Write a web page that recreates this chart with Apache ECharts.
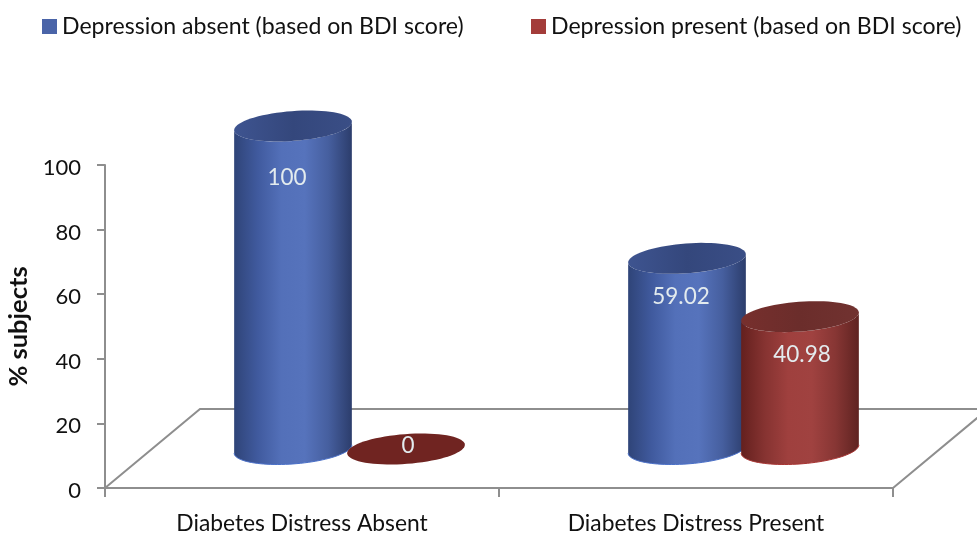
<!DOCTYPE html>
<html>
<head>
<meta charset="utf-8">
<title>Depression by diabetes distress</title>
<script src="https://cdn.jsdelivr.net/npm/echarts@6/dist/echarts.min.js"></script>
<style>
  html, body { margin: 0; padding: 0; background: #fff; }
  #main { width: 977px; height: 534px; }
</style>
</head>
<body>
<div id="main"></div>
<script>
const categories = ['Diabetes Distress Absent', 'Diabetes Distress Present']
const absentValues = [100, 59.02]
const presentValues = [0, 40.98]
const absentName = 'Depression absent (based on BDI score)'
const presentName = 'Depression present (based on BDI score)'

const FONT = 'Lato, "Noto Sans", sans-serif'

// fake 3d: the cylinders stand on a floor drawn behind the plot
const baseLift = 39
const floorDepthX = 95
const floorDepthY = 79
const radiusX = 59
const radiusY = 14.9
const tilt = (4.3 * Math.PI) / 180

function ellipsePoint(cx, cy, t) {
  const ex = radiusX * Math.cos(t)
  const ey = radiusY * Math.sin(t)
  return [
    cx + ex * Math.cos(tilt) + ey * Math.sin(tilt),
    cy - ex * Math.sin(tilt) + ey * Math.cos(tilt),
  ]
}

// lower half of the tilted ellipse, from right tangent to left tangent
function lowerArc(cx, cy) {
  const start = Math.atan2(radiusY * Math.sin(tilt), radiusX * Math.cos(tilt))
  const points = []
  for (let i = 0; i <= 48; i++) {
    points.push(ellipsePoint(cx, cy, start + (Math.PI * i) / 48))
  }
  return points
}

function sideGradient(stops) {
  return new echarts.graphic.LinearGradient(
    0, 0, 1, 0,
    stops.map((color, i) => ({ offset: i / (stops.length - 1), color: color }))
  )
}

function fullEllipse(cx, cy) {
  const points = []
  for (let i = 0; i < 72; i++) {
    points.push(ellipsePoint(cx, cy, (Math.PI * 2 * i) / 72))
  }
  return points
}

function cylinderRender(look) {
  return function (params, api) {
    const value = api.value(1)
    const top = api.coord([api.value(0), value])
    const cx = top[0] + look.offset
    const topY = top[1] - baseLift
    const baseY = api.coord([api.value(0), 0])[1] - baseLift
    const bottomArc = lowerArc(cx, baseY)
    const topArc = lowerArc(cx, topY)
    const children = []
    if (value > 0) {
      children.push({
        type: 'polygon',
        shape: { points: bottomArc.concat(topArc.slice().reverse()) },
        style: { fill: sideGradient(look.side) },
      })
      children.push({
        type: 'polyline',
        shape: { points: bottomArc },
        style: { fill: null, stroke: look.rim, lineWidth: 1 },
      })
    }
    children.push({
      type: 'polygon',
      shape: { points: fullEllipse(cx, topY) },
      style: { fill: sideGradient(value > 0 ? look.cap : [look.flat, look.flat]) },
    })
    children.push({
      type: 'text',
      style: {
        x: cx + look.labelX,
        y: value > 0 ? topY + (value >= 100 ? 52 : 38) : topY - 3,
        text: String(value),
        fill: '#e3ebee',
        font: '22.5px ' + FONT,
        align: 'center',
        verticalAlign: 'middle',
      },
    })
    return { type: 'group', children: children }
  }
}

function floorRender(params) {
  const box = params.coordSys
  const bottom = box.y + box.height
  return {
    type: 'polyline',
    shape: {
      points: [
        [box.x, bottom],
        [box.x + floorDepthX, bottom - floorDepthY],
        [box.x + box.width + floorDepthX, bottom - floorDepthY],
        [box.x + box.width, bottom],
      ],
    },
    style: { fill: null, stroke: '#8e8e8e', lineWidth: 2 },
  }
}

const chart = echarts.init(document.getElementById('main'), null, { renderer: 'canvas' })

const legendBase = {
  top: 15,
  padding: 0,
  itemWidth: 15,
  itemHeight: 15,
  itemGap: 0,
  icon: 'rect',
  textStyle: { fontFamily: FONT, fontSize: 23.1, color: '#111' },
}

chart.setOption({
  animation: false,
  backgroundColor: '#fff',
  legend: [
    Object.assign({}, legendBase, { left: 42, data: [absentName] }),
    Object.assign({}, legendBase, { left: 531, data: [presentName] }),
  ],
  grid: { left: 105, right: 84, top: 165, bottom: 46, containLabel: false, outerBoundsMode: 'none' },
  xAxis: {
    type: 'category',
    data: categories,
    axisLine: { lineStyle: { color: '#8e8e8e', width: 2 } },
    axisTick: { show: true, length: 9, lineStyle: { color: '#8e8e8e', width: 2 } },
    axisLabel: { fontFamily: FONT, fontSize: 22.8, color: '#111', margin: 24, interval: 0 },
  },
  yAxis: {
    type: 'value',
    min: 0,
    max: 100,
    interval: 20,
    name: '% subjects',
    nameLocation: 'middle',
    nameGap: 68,
    nameTextStyle: { fontFamily: FONT, fontSize: 25.5, fontWeight: 'bold', color: '#111' },
    splitLine: { show: false },
    axisLine: { show: true, lineStyle: { color: '#8e8e8e', width: 2 } },
    axisTick: { show: true, length: 8, lineStyle: { color: '#8e8e8e', width: 2 } },
    axisLabel: {
      margin: 24,
      formatter: '{tick|{value}}',
      rich: {
        tick: { fontFamily: FONT, fontSize: 22, color: '#111', padding: [6, 0, 0, 0] },
      },
    },
  },
  series: [
    {
      type: 'custom',
      z: 1,
      silent: true,
      clip: false,
      data: [[0, 0]],
      renderItem: floorRender,
    },
    {
      type: 'custom',
      name: absentName,
      z: 2,
      clip: false,
      itemStyle: { color: '#4a64a8' },
      data: absentValues.map((v, i) => [i, v]),
      encode: { x: 0, y: 1 },
      renderItem: cylinderRender({
        offset: -9,
        labelX: -6,
        side: ['#2f4478', '#405a9e', '#5370b9', '#5673bc', '#465f9f', '#2c3d6c'],
        cap: ['#3e5490', '#34477c', '#3a4e86'],
        rim: '#4a70c8',
        flat: '#3e5490',
      }),
    },
    {
      type: 'custom',
      name: presentName,
      z: 3,
      clip: false,
      itemStyle: { color: '#a33c3a' },
      data: presentValues.map((v, i) => [i, v]),
      encode: { x: 0, y: 1 },
      renderItem: cylinderRender({
        offset: 104,
        labelX: 2,
        side: ['#64201e', '#863331', '#9f403e', '#a04240', '#873634', '#5f2321'],
        cap: ['#772f2d', '#6b2d2b', '#713230'],
        rim: '#a83533',
        flat: '#702421',
      }),
    },
  ],
})
</script>
</body>
</html>
